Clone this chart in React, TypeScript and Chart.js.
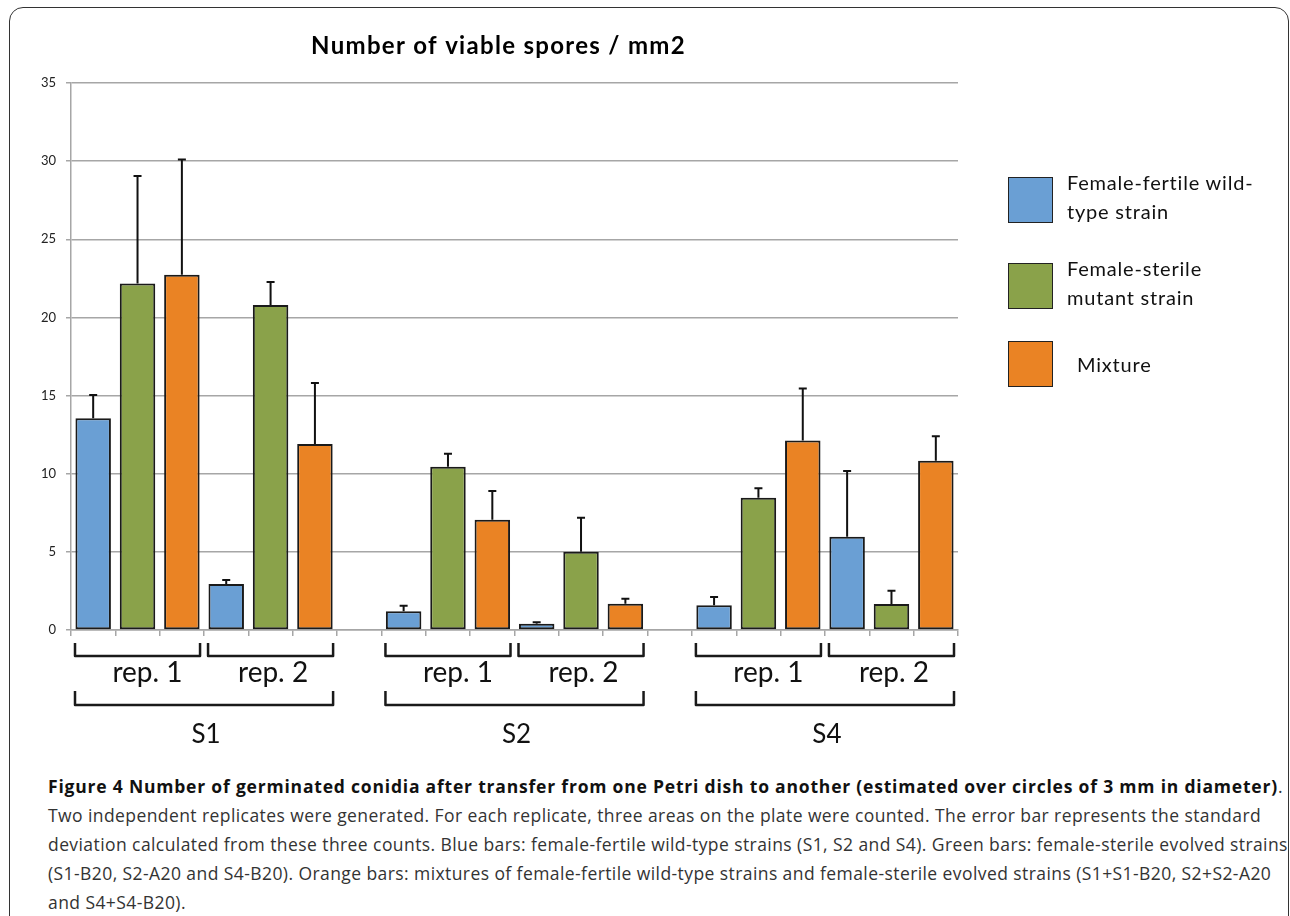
import React, { useEffect, useRef } from "react";
import { Chart, registerables } from "chart.js";

Chart.register(...registerables);

// ---------- data ----------
const strains = ["S1", "S2", "S4"];
const replicates = ["rep. 1", "rep. 2"];
const seriesNames = ["Female-fertile wild-type strain", "Female-sterile mutant strain", "Mixture"];
const legendLines = [["Female-fertile wild-", "type strain"], ["Female-sterile", "mutant strain"], ["Mixture"]];
const seriesColors = ["#6a9fd4", "#8aa24a", "#ea8324"];

// order: S1 rep1, S1 rep2, S2 rep1, S2 rep2, S4 rep1, S4 rep2
const wildType = [13.55, 2.94, 1.2, 0.4, 1.58, 5.97];
const wildTypeSD = [1.48, 0.26, 0.35, 0.09, 0.53, 4.2];
const mutant = [22.17, 20.8, 10.45, 5.0, 8.47, 1.66];
const mutantSD = [6.88, 1.47, 0.83, 2.18, 0.6, 0.85];
const mixture = [22.73, 11.9, 7.06, 1.68, 12.13, 10.83];
const mixtureSD = [7.37, 3.9, 1.84, 0.32, 3.33, 1.56];

const yTicks = [0, 5, 10, 15, 20, 25, 30, 35];
const chartTitle = "Number of viable spores / mm2";

const captionBold = "Figure 4 Number of germinated conidia after transfer from one Petri dish to another (estimated over circles of 3 mm in diameter)";
const captionLines = [
  "Two independent replicates were generated. For each replicate, three areas on the plate were counted. The error bar represents the standard",
  "deviation calculated from these three counts. Blue bars: female-fertile wild-type strains (S1, S2 and S4). Green bars: female-sterile evolved strains",
  "(S1-B20, S2-A20 and S4-B20). Orange bars: mixtures of female-fertile wild-type strains and female-sterile evolved strains (S1+S1-B20, S2+S2-A20",
  "and S4+S4-B20).",
];

// ---------- build category table ----------
const seriesValues = [wildType, mutant, mixture];
const seriesSD = [wildTypeSD, mutantSD, mixtureSD];
const categories: string[] = [];
const slotIndex: number[][] = [[], [], []]; // [series][group] -> category index
const groupStart: number[] = [];
strains.forEach((s, si) => {
  if (si > 0) categories.push("");
  replicates.forEach((r, ri) => {
    groupStart.push(categories.length);
    seriesNames.forEach((n, k) => {
      slotIndex[k].push(categories.length);
      categories.push(`${s} ${r} ${n}`);
    });
  });
});

function seriesData(k: number, src: number[][]) {
  const arr: (number | null)[] = categories.map(() => null);
  src[k].forEach((v, g) => {
    arr[slotIndex[k][g]] = v;
  });
  return arr;
}

const FONT = "Lato";

const errorBarPlugin = {
  id: "errorBars",
  afterDatasetsDraw(chart: any) {
    const ctx = chart.ctx;
    const y = chart.scales.y;
    ctx.save();
    ctx.strokeStyle = "#111";
    ctx.lineWidth = 2;
    chart.data.datasets.forEach((ds: any, di: number) => {
      const meta = chart.getDatasetMeta(di);
      const sds = seriesData(di, seriesSD);
      meta.data.forEach((el: any, i: number) => {
        const v = ds.data[i];
        if (v == null || sds[i] == null) return;
        const top = y.getPixelForValue(v + (sds[i] as number));
        ctx.beginPath();
        ctx.moveTo(el.x, el.y);
        ctx.lineTo(el.x, top);
        ctx.moveTo(el.x - 4, top);
        ctx.lineTo(el.x + 4, top);
        ctx.stroke();
      });
    });
    ctx.restore();
  },
};

function bracket(ctx: CanvasRenderingContext2D, l: number, r: number, t: number, b: number) {
  ctx.beginPath();
  ctx.moveTo(l, t);
  ctx.lineTo(l, b);
  ctx.lineTo(r, b);
  ctx.lineTo(r, t);
  ctx.stroke();
}

const bracketPlugin = {
  id: "brackets",
  afterDraw(chart: any) {
    const ctx = chart.ctx;
    const x = chart.scales.x;
    const area = chart.chartArea;
    const cw = x.getPixelForValue(1) - x.getPixelForValue(0);
    const base = area.bottom;
    ctx.save();
    ctx.strokeStyle = "#1a1a1a";
    ctx.lineWidth = 2.5;
    ctx.lineJoin = "round";
    ctx.fillStyle = "#111";
    ctx.textAlign = "center";
    ctx.textBaseline = "alphabetic";
    const repShift = [10, 2.5];
    strains.forEach((s, si) => {
      let sl = Infinity;
      let sr = -Infinity;
      replicates.forEach((r, ri) => {
        const g = si * replicates.length + ri;
        const first = groupStart[g];
        const l = x.getPixelForValue(first) - cw / 2 + 4;
        const rr = x.getPixelForValue(first + 2) + cw / 2 - 4;
        sl = Math.min(sl, l);
        sr = Math.max(sr, rr);
        bracket(ctx, l, rr, base + 13, base + 26);
        ctx.font = `28px ${FONT}`;
        ctx.fillText(r, (l + rr) / 2 + repShift[ri], base + 52);
      });
      bracket(ctx, sl, sr, base + 61, base + 75);
      ctx.font = `26px ${FONT}`;
      ctx.fillText(s, (sl + sr) / 2 + 2, base + 113);
    });
    // title
    ctx.font = `bold 24px ${FONT}`;
    ctx.fillStyle = "#000";
    (ctx as any).letterSpacing = "1.3px";
    ctx.fillText(chartTitle, (area.left + area.right) / 2 - 16, 54);
    (ctx as any).letterSpacing = "0px";
    ctx.restore();
  },
};

function ChartCanvas() {
  const ref = useRef<HTMLCanvasElement>(null);
  useEffect(() => {
    const chart = new Chart(ref.current as HTMLCanvasElement, {
      type: "bar",
      data: {
        labels: categories,
        datasets: seriesNames.map((n, k) => ({
          label: n,
          data: seriesData(k, seriesValues),
          backgroundColor: seriesColors[k],
          borderColor: "#1a1a1a",
          borderWidth: 2,
          borderSkipped: false,
        })),
      },
      options: {
        responsive: false,
        animation: false,
        devicePixelRatio: 1,
        grouped: false,
        barPercentage: 0.8,
        categoryPercentage: 1.0,
        layout: { padding: { left: 0, right: 332, top: 83, bottom: 0 } },
        plugins: {
          legend: { display: false },
          title: { display: false },
          tooltip: { enabled: false },
        },
        scales: {
          x: {
            type: "category",
            grid: {
              display: true,
              drawOnChartArea: false,
              drawTicks: true,
              tickLength: 6,
              color: "#a6a6a6",
              lineWidth: 1.5,
              offset: true,
            },
            border: { display: true, color: "#a6a6a6", width: 1.5 },
            ticks: { display: false },
            afterFit(scale: any) {
              scale.height = 130;
            },
          },
          y: {
            min: 0,
            max: 35,
            afterBuildTicks(scale: any) {
              scale.ticks = yTicks.map((v) => ({ value: v }));
            },
            ticks: {
              font: { family: FONT, size: 13 },
              color: "#222",
              padding: 10,
            },
            grid: { color: "#a6a6a6", lineWidth: 1.5, tickLength: 5 },
            border: { display: true, color: "#a6a6a6", width: 1.5 },
            afterFit(scale: any) {
              scale.width = 71;
            },
          },
        },
      } as any,
      plugins: [errorBarPlugin, bracketPlugin],
    });
    return () => chart.destroy();
  }, []);
  return (
    <canvas
      ref={ref}
      width={1290}
      height={760}
      style={{ position: "absolute", left: 0, top: 0, width: 1290, height: 760 }}
    />
  );
}

export default function App() {
  useEffect(() => {
    document.body.style.margin = "0";
  }, []);
  return (
    <div style={{ position: "relative", width: 1290, height: 916, overflow: "hidden", background: "#fff" }}>
      <div
        style={{
          position: "absolute",
          left: 9,
          top: 7,
          width: 1280,
          height: 960,
          border: "1.5px solid #333",
          borderRadius: 14,
          boxSizing: "border-box",
        }}
      />
      <ChartCanvas />
      {legendLines.map((lines, k) => {
        const tops = [177, 263, 341];
        const textTops = [168, 254, 350];
        const lefts = [1067, 1067, 1077];
        return (
          <React.Fragment key={k}>
            <div
              style={{
                position: "absolute",
                left: 1008,
                top: tops[k],
                width: 45,
                height: 46,
                background: seriesColors[k],
                border: "1.5px solid #222",
                boxSizing: "border-box",
              }}
            />
            <div
              style={{
                position: "absolute",
                left: lefts[k],
                top: textTops[k],
                font: `20px ${FONT}`,
                letterSpacing: "0.8px",
                lineHeight: "29px",
                color: "#111",
                whiteSpace: "nowrap",
              }}
            >
              {lines.map((l, i) => (
                <div key={i}>{l}</div>
              ))}
            </div>
          </React.Fragment>
        );
      })}
      <div
        style={{
          position: "absolute",
          left: 48,
          top: 772,
          font: "17.5px 'Open Sans'",
          letterSpacing: "0.42px",
          lineHeight: "29px",
          color: "#333",
          whiteSpace: "nowrap",
        }}
      >
        <div>
          <b style={{ color: "#111", letterSpacing: "0.8px" }}>{captionBold}</b>.
        </div>
        {captionLines.map((l, i) => (
          <div key={i}>{l}</div>
        ))}
      </div>
    </div>
  );
}
